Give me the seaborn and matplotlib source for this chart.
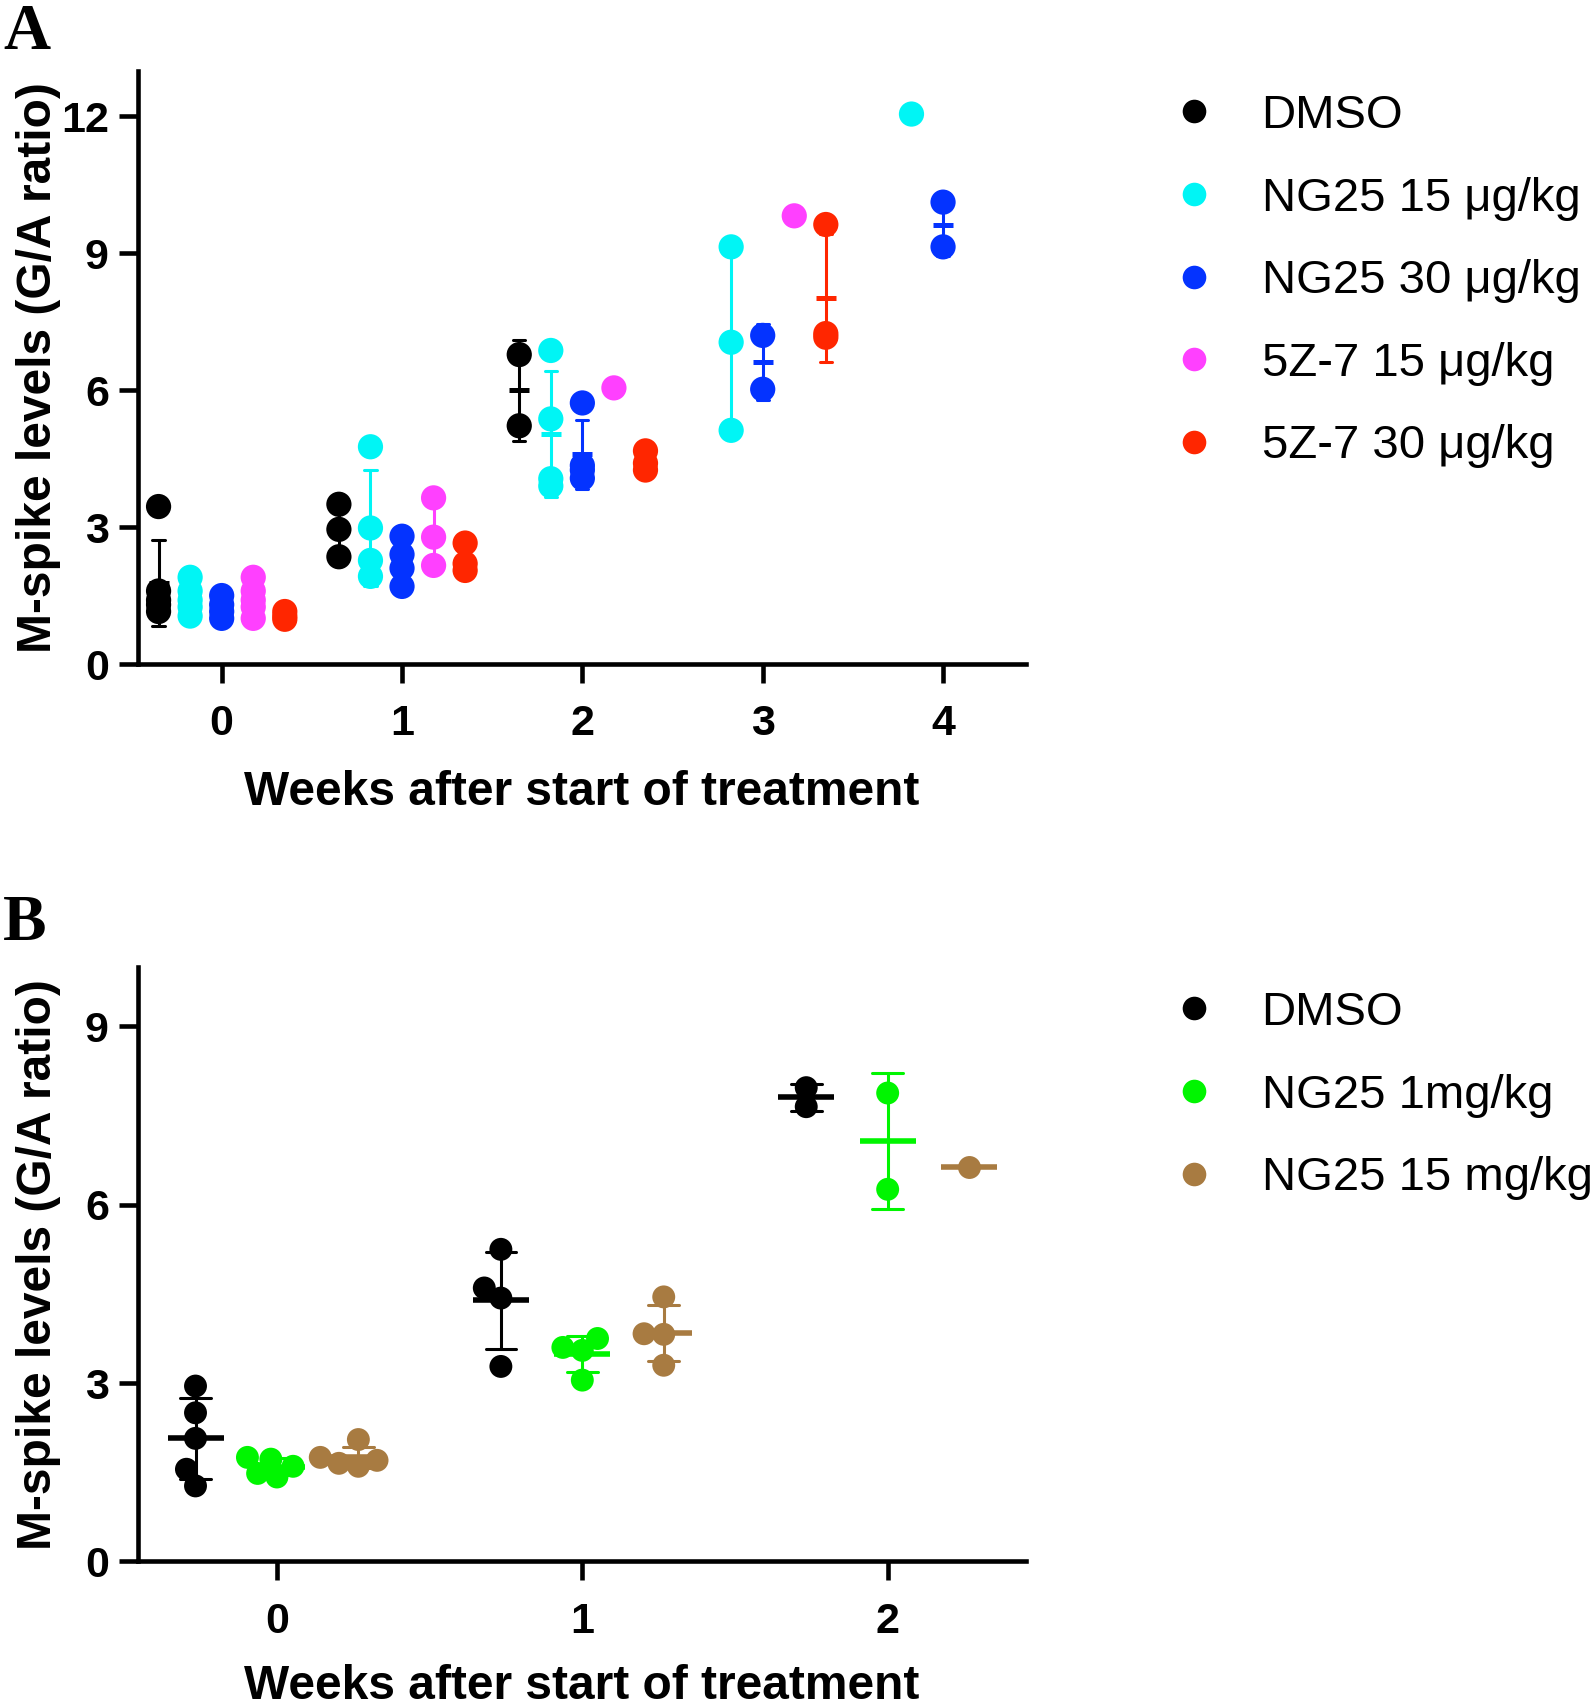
import numpy as np
import pandas as pd
import matplotlib
matplotlib.use("Agg")
import matplotlib.pyplot as plt
from matplotlib.lines import Line2D
import seaborn as sns

# ---------------- Data ----------------
weeks_A = [0, 1, 2, 3, 4]
groups_A = ["DMSO", "NG25 15 μg/kg", "NG25 30 μg/kg", "5Z-7 15 μg/kg", "5Z-7 30 μg/kg"]
colors_A = ["#000000", "#00F5F5", "#0433FF", "#FF40FF", "#FF2600"]

A_dmso = [[3.45, 1.6, 1.4, 1.3, 1.15], [3.5, 2.95, 2.35], [6.78, 5.22], [], []]
A_ng25_15 = [[1.9, 1.6, 1.4, 1.25, 1.05], [4.76, 2.98, 2.27, 1.92], [6.87, 5.37, 4.06, 3.9], [9.14, 7.05, 5.12], [12.05]]
A_ng25_30 = [[1.5, 1.3, 1.15, 1.0], [2.8, 2.4, 2.1, 1.7], [5.72, 4.35, 4.25, 4.07], [7.2, 6.02], [10.12, 9.14]]
A_5z7_15 = [[1.9, 1.6, 1.4, 1.25, 1.0], [3.64, 2.78, 2.16], [6.05], [9.82], []]
A_5z7_30 = [[1.15, 1.05, 0.98], [2.65, 2.2, 2.05], [4.67, 4.4, 4.25], [9.63, 7.24, 7.16], []]

weeks_B = [0, 1, 2]
groups_B = ["DMSO", "NG25 1mg/kg", "NG25 15 mg/kg"]
colors_B = ["#000000", "#00F500", "#A87B41"]

B_dmso = [[2.95, 2.5, 2.07, 1.55, 1.27], [5.25, 4.6, 4.43, 3.28], [7.97, 7.65]]
B_ng25_1 = [[1.75, 1.72, 1.6, 1.48, 1.42], [3.75, 3.6, 3.55, 3.05], [7.88, 6.26]]
B_ng25_15 = [[2.05, 1.75, 1.7, 1.65, 1.6], [4.45, 3.83, 3.82, 3.3], [6.63]]

y_label = "M-spike levels (G/A ratio)"
x_label = "Weeks after start of treatment"


def to_long(weeks, groups, series):
    rows = []
    for g, ser in zip(groups, series):
        for w, vals in zip(weeks, ser):
            for v in vals:
                rows.append({"week": w, "group": g, "value": v})
    return pd.DataFrame(rows)


dfA = to_long(weeks_A, groups_A, [A_dmso, A_ng25_15, A_ng25_30, A_5z7_15, A_5z7_30])
dfB = to_long(weeks_B, groups_B, [B_dmso, B_ng25_1, B_ng25_15])

# dodge offsets for panel A scatter (same as pointplot dodge=0.7)
stepA = 0.175
idxA = {g: i for i, g in enumerate(groups_A)}
dfA["xpos"] = dfA["week"] + (dfA["group"].map(idxA) - (len(groups_A) - 1) / 2) * stepA

palA = dict(zip(groups_A, colors_A))
palB = dict(zip(groups_B, colors_B))

# ---------------- Style ----------------
sns.set_style("ticks")
plt.rcParams["font.family"] = ["Liberation Sans", "DejaVu Sans"]
for k in ["text.color", "axes.labelcolor", "xtick.color", "ytick.color", "axes.edgecolor"]:
    plt.rcParams[k] = "black"
plt.rcParams["axes.linewidth"] = 3.3

W, H = 1594, 1704
fig = plt.figure(figsize=(W / 100, H / 100), dpi=100)

axA = fig.add_axes([138 / W, 1 - 664 / H, 888 / W, 593.3 / H])
axB = fig.add_axes([138 / W, 1 - 1561.4 / H, 888 / W, 594.4 / H])

# ---------------- Panel A ----------------
sns.scatterplot(data=dfA, x="xpos", y="value", hue="group", hue_order=groups_A,
                palette=palA, s=330, linewidth=0, legend=False, ax=axA, zorder=2)
sns.pointplot(data=dfA, x="week", y="value", hue="group", hue_order=groups_A,
              palette=palA, native_scale=True, dodge=0.7, estimator="mean",
              errorbar="sd", markers="_", linestyles="none", markersize=15,
              markeredgewidth=3.6, capsize=0.068, err_kws={"linewidth": 2.2},
              legend=False, ax=axA, zorder=3)

# ---------------- Panel B ----------------
n0 = len(axB.collections)
# swarm computed with a smaller footprint so that dots may overlap a little
sns.swarmplot(data=dfB, x="week", y="value", hue="group", hue_order=groups_B,
              palette=palB, native_scale=True, dodge=True, size=13.5,
              linewidth=0, legend=False, ax=axB, zorder=2)
swarm_cols = axB.collections[n0:]
sns.pointplot(data=dfB, x="week", y="value", hue="group", hue_order=groups_B,
              palette=palB, native_scale=True, dodge=0.8 * 2 / 3, estimator="mean",
              errorbar="sd", markers="_", linestyles="none", markersize=40,
              markeredgewidth=4.0, capsize=0.1, err_kws={"linewidth": 2.2},
              legend=False, ax=axB, zorder=3)

# ---------------- Axes formatting ----------------
for ax, xl, yl, xt, yt in [
    (axA, (-0.464, 4.46), (0, 13), weeks_A, [0, 3, 6, 9, 12]),
    (axB, (-0.455, 2.453), (0, 10), weeks_B, [0, 3, 6, 9]),
]:
    ax.set_xlim(*xl)
    ax.set_ylim(*yl)
    ax.set_xticks(xt)
    ax.set_yticks(yt)
    ax.set_xticklabels([str(v) for v in xt])
    ax.set_yticklabels([str(v) for v in yt])
    for s in ["top", "right"]:
        ax.spines[s].set_visible(False)
    ax.spines["left"].set_linewidth(3.3)
    ax.spines["bottom"].set_linewidth(3.3)
    ax.tick_params(axis="both", direction="out", length=14, width=3.3,
                   labelsize=31, color="black", labelcolor="black")
    ax.tick_params(axis="y", pad=7)
    ax.tick_params(axis="x", pad=15)
    for lab in ax.get_xticklabels() + ax.get_yticklabels():
        lab.set_fontweight("bold")
    ax.set_xlabel(x_label, fontsize=34.5, fontweight="bold")
    ax.set_ylabel(y_label, fontsize=34.5, fontweight="bold")
    ax.set_facecolor("white")

axA.xaxis.set_label_coords(0.5, -0.179)
axB.xaxis.set_label_coords(0.5, -0.173)
axA.yaxis.set_label_coords(-0.087, 0.5)
axB.yaxis.set_label_coords(-0.087, 0.5)

# ---------------- Legends ----------------
def make_legend(ax, groups, pal, top_px):
    handles = [Line2D([0], [0], marker="o", linestyle="none", markersize=17,
                      markerfacecolor=pal[g], markeredgewidth=0) for g in groups]
    leg = ax.legend(handles, groups, loc="upper left",
                    bbox_to_anchor=(1170 / W, 1 - top_px / H),
                    bbox_transform=fig.transFigure, frameon=False,
                    fontsize=34, handlelength=1.0, handletextpad=0.94,
                    labelspacing=0.816, borderpad=0, borderaxespad=0)
    return leg

make_legend(axA, groups_A, palA, 94)
make_legend(axB, groups_B, palB, 991)

# ---------------- Panel letters ----------------
for letter, base in [("A", 49), ("B", 940)]:
    fig.text(3 / W, 1 - base / H, letter, fontsize=47, fontweight="bold",
             family=["Liberation Serif", "DejaVu Serif"], va="baseline", ha="left")

# fix the swarm layout, then enlarge the dots to their real size
fig.canvas.draw()
for c in swarm_cols:
    if "draw" in c.__dict__:
        del c.draw
    c.set_sizes([16.5 ** 2])

fig.savefig("out.png", dpi=100, facecolor="white")
